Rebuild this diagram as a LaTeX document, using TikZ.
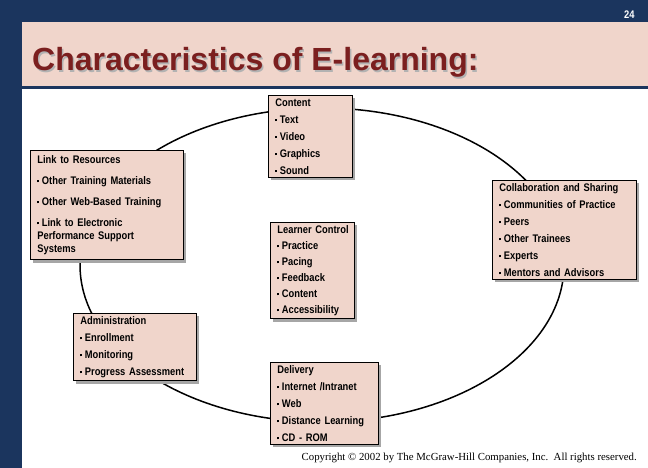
\documentclass[tikz,border=0pt]{standalone}
\usepackage{fontspec}
\usetikzlibrary{shadows}
\setmainfont{Liberation Sans}
\newfontfamily\narrowfont[FakeStretch=0.85]{Liberation Sans}
\newfontfamily\serifcopy{Liberation Serif}
\definecolor{navy}{HTML}{1B355E}
\definecolor{pinkbg}{HTML}{F0D5CB}
\definecolor{titlered}{HTML}{7B1F1F}
\hyphenpenalty=10000
\exhyphenpenalty=10000
\newcommand{\bul}{\raisebox{2pt}{\rule{2pt}{2pt}}\hspace{2.5pt}}
\begin{document}
\begin{tikzpicture}[x=1pt,y=-1pt,
  item/.style={draw=black,fill=pinkbg,line width=0.8pt,align=left,anchor=north west,
    font=\narrowfont\bfseries\fontsize{11}{17}\selectfont,inner xsep=7pt,inner ysep=3pt,
    drop shadow={shadow xshift=3pt,shadow yshift=-3pt,fill=gray!70,opacity=1},text width=#1},
  item/.default=80pt]
\useasboundingbox (0,0) rectangle (648,468);
\fill[navy] (0,0) rectangle (648,468);
\fill[white] (22,89) rectangle (648,468);
\fill[pinkbg] (22,22) rectangle (648,86);
\node[anchor=base west,inner sep=0pt,font=\bfseries\fontsize{32}{34}\selectfont,text=gray!60] (tsh) at (33.5,72.5) {Characteristics of E-learning:};
\node[anchor=base west,inner sep=0pt,font=\bfseries\fontsize{32}{34}\selectfont,text=titlered] (title) at (32,71) {Characteristics of E-learning:};
\node[anchor=base east,text=white,font=\narrowfont\bfseries\fontsize{11}{12}\selectfont] (pg) at (638,19) {24};
\draw[line width=1.5pt] (322,265) ellipse [x radius=242, y radius=157];
\node[item=70pt] (content) at (268,95) {Content\\ \bul Text\\ \bul Video\\ \bul Graphics\\ \bul Sound};
\node[item=139pt,font=\narrowfont\bfseries\fontsize{11}{13}\selectfont,inner ysep=5pt] (link) at (30,150) {Link to Resources\\[8pt] \bul Other Training Materials\\[8pt] \bul Other Web-Based Training\\[8pt] \bul Link to Electronic\\ Performance Support\\ Systems};
\node[item=130pt] (collab) at (492,180) {Collaboration and Sharing\\ \bul Communities of Practice\\ \bul Peers\\ \bul Other Trainees\\ \bul Experts\\ \bul Mentors and Advisors};
\node[item=70pt,font=\narrowfont\bfseries\fontsize{11}{16}\selectfont] (learner) at (270,222) {Learner~Control\\ \bul Practice\\ \bul Pacing\\ \bul Feedback\\ \bul Content\\ \bul Accessibility};
\node[item=109pt] (admin) at (73,313) {Administration\\ \bul Enrollment\\ \bul Monitoring\\ \bul Progress Assessment};
\node[item=94pt] (delivery) at (270,362) {Delivery\\ \bul Internet /Intranet\\ \bul Web\\ \bul Distance Learning\\ \bul CD - ROM};
\node[anchor=base east,inner sep=0pt,font=\serifcopy\fontsize{10.8}{11}\selectfont] (copy) at (637,460) {Copyright \textcopyright{} 2002 by The McGraw-Hill Companies, Inc.\ \ All rights reserved.};
\end{tikzpicture}
\end{document}
